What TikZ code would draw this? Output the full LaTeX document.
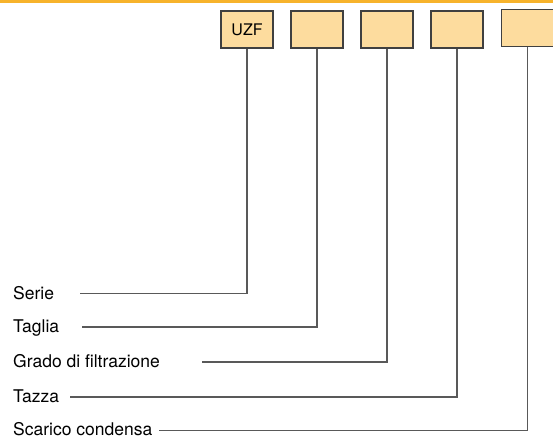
\documentclass[tikz,border=0pt]{standalone}
\usepackage{fontspec}
\setmainfont{TeX Gyre Heros}
\begin{document}
\begin{tikzpicture}[x=1pt,y=-1pt,
  codebox/.style={draw=black!75,fill=boxfill,line width=1.1pt,minimum width=52pt,minimum height=37pt,inner sep=0pt,font=\fontsize{16}{18}\selectfont},
  lbl/.style={anchor=base west,inner sep=0pt,font=\fontsize{17.5}{20}\selectfont},
  conn/.style={draw=black!65,line width=1.1pt}]
\definecolor{boxfill}{HTML}{FDDC9E}
\definecolor{topline}{HTML}{F7B32B}
\useasboundingbox (0,0) rectangle (553,438);
\fill[topline] (0,0) rectangle (553,2.7);
\node[codebox] (b1) at (247,29.5) {UZF};
\node[codebox] (b2) at (317,29.5) {};
\node[codebox] (b3) at (387,29.5) {};
\node[codebox] (b4) at (457,29.5) {};
\node[codebox] (b5) at (527.5,28) {};
\node[lbl] (l1) at (13,299) {Serie};
\node[lbl] (l2) at (13,332.5) {Taglia};
\node[lbl] (l3) at (13,367.5) {Grado di filtrazione};
\node[lbl] (l4) at (13,402.5) {Tazza};
\node[lbl,text depth=0pt] (l5) at (13,435.5) {Scarico condensa};
\coordinate (s1) at (80,293.5);
\coordinate (s2) at (82,327);
\coordinate (s3) at (202,362);
\coordinate (s4) at (70,397);
\coordinate (s5) at (159,430.5);
\draw[conn] (s1) -| (b1.south);
\draw[conn] (s2) -| (b2.south);
\draw[conn] (s3) -| (b3.south);
\draw[conn] (s4) -| (b4.south);
\draw[conn] (s5) -| (b5.south);
\end{tikzpicture}
\end{document}
